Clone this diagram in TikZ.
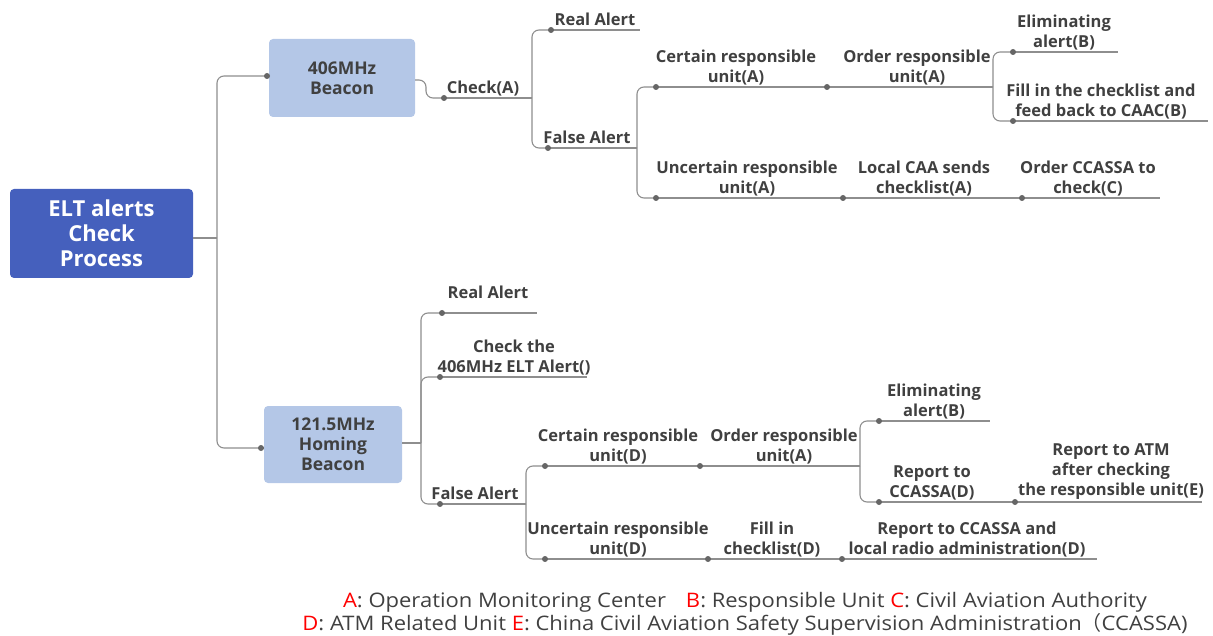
\documentclass[tikz,border=0pt]{standalone}
\usepackage{fontspec}
\setmainfont{Open Sans}
\newfontfamily\cjkfont{Noto Sans CJK SC}
\newfontfamily\legfont[FakeStretch=1.1]{Open Sans}
\definecolor{rootc}{HTML}{4560BD}
\definecolor{boxc}{HTML}{B4C7E7}
\definecolor{linec}{HTML}{8E8E8E}
\definecolor{dotc}{HTML}{666666}
\definecolor{txtc}{HTML}{404040}
\definecolor{legred}{HTML}{FF0000}
\begin{document}
\begin{tikzpicture}[x=1pt,y=-1pt,
  lbl/.style={font=\bfseries\fontsize{16.5}{20}\selectfont, text=txtc, align=center, inner sep=0pt, text depth=3pt, anchor=south},
  conn/.style={draw=linec, line width=1.1pt, rounded corners=7pt},
  rootbox/.style={draw=none, fill=rootc, rounded corners=4pt, text=white, align=center, font=\bfseries\fontsize{22}{25}\selectfont},
  beaconbox/.style={draw=none, fill=boxc, rounded corners=4pt, text=txtc, align=center, font=\bfseries\fontsize{17.5}{20}\selectfont},
  legend/.style={font=\legfont\fontsize{20}{23}\selectfont, text=txtc, align=center, inner sep=0pt}
]
\useasboundingbox (0,0) rectangle (1213,636);

% boxes
\node[rootbox, minimum width=183pt, minimum height=89pt] (root) at (101.5,233.5) {ELT alerts\\Check\\Process};
\node[beaconbox, minimum width=146pt, minimum height=78pt] (b406) at (342,78) {406MHz\\Beacon};
\node[beaconbox, minimum width=138pt, minimum height=77pt] (b121) at (333,444.5) {121.5MHz\\Homing\\Beacon};

% coordinates: dots (d-) and line ends (e-)
\coordinate (rj) at (217,238);
\coordinate (d-b406) at (267,76);
\coordinate (d-b121) at (261,448);
\coordinate (b406o) at (415,80);
\coordinate (b406j) at (426,80);
\coordinate (d-chk) at (444,98);   \coordinate (e-chk) at (532,98);
\coordinate (d-ra1) at (551,30);   \coordinate (e-ra1) at (640,30);
\coordinate (d-fa1) at (548,148);  \coordinate (e-fa1) at (637,148);
\coordinate (d-cr1) at (656,87);
\coordinate (d-or1) at (827,87);   \coordinate (e-or1) at (993,87);
\coordinate (d-el1) at (1013,52);  \coordinate (e-el1) at (1118,52);
\coordinate (d-fi1) at (1013,121); \coordinate (e-fi1) at (1208,121);
\coordinate (d-ur1) at (656,198);
\coordinate (d-lc1) at (843,198);
\coordinate (d-oc1) at (1022,198); \coordinate (e-oc1) at (1160,198);
\coordinate (b121o) at (402,443);
\coordinate (b121j) at (421,443);
\coordinate (d-ra2) at (442,313);  \coordinate (e-ra2) at (537,313);
\coordinate (d-ch2) at (440,377);  \coordinate (e-ch2) at (587,377);
\coordinate (d-fa2) at (440,504);  \coordinate (e-fa2) at (526,504);
\coordinate (d-cr2) at (545,466);
\coordinate (d-or2) at (700,466);  \coordinate (e-or2) at (860,466);
\coordinate (d-el2) at (879,421);  \coordinate (e-el2) at (990,421);
\coordinate (d-rc2) at (879,502);
\coordinate (d-ra3) at (1015,502); \coordinate (e-ra3) at (1202,502);
\coordinate (d-ur2) at (545,559);
\coordinate (d-fl2) at (708,559);
\coordinate (d-rr2) at (842,559);  \coordinate (e-rr2) at (1097,559);

% connectors
\draw[conn] (root.east |- rj) -- (rj);
\draw[conn] (rj) |- (d-b406);
\draw[conn] (rj) |- (d-b121);
\draw[conn] (d-b406) -- (b406.west |- d-b406);
\draw[conn] (d-b121) -- (b121.west |- d-b121);
\draw[conn] (b406o) -- (b406j) |- (d-chk);
\draw[conn] (d-chk) -- (e-chk);
\draw[conn] (e-chk) |- (d-ra1);
\draw[conn] (e-chk) |- (d-fa1);
\draw[conn] (d-ra1) -- (e-ra1);
\draw[conn] (d-fa1) -- (e-fa1);
\draw[conn] (e-fa1) |- (d-cr1);
\draw[conn] (e-fa1) |- (d-ur1);
\draw[conn] (d-cr1) -- (d-or1) -- (e-or1);
\draw[conn] (e-or1) |- (d-el1);
\draw[conn] (e-or1) |- (d-fi1);
\draw[conn] (d-el1) -- (e-el1);
\draw[conn] (d-fi1) -- (e-fi1);
\draw[conn] (d-ur1) -- (d-lc1) -- (d-oc1) -- (e-oc1);
\draw[conn] (b121o) -- (b121j);
\draw[conn] (b121j) |- (d-ra2);
\draw[conn] (b121j) |- (d-ch2);
\draw[conn] (b121j) |- (d-fa2);
\draw[conn] (d-ra2) -- (e-ra2);
\draw[conn] (d-ch2) -- (e-ch2);
\draw[conn] (d-fa2) -- (e-fa2);
\draw[conn] (e-fa2) |- (d-cr2);
\draw[conn] (e-fa2) |- (d-ur2);
\draw[conn] (d-cr2) -- (d-or2) -- (e-or2);
\draw[conn] (e-or2) |- (d-el2);
\draw[conn] (e-or2) |- (d-rc2);
\draw[conn] (d-el2) -- (e-el2);
\draw[conn] (d-rc2) -- (d-ra3) -- (e-ra3);
\draw[conn] (d-ur2) -- (d-fl2) -- (d-rr2) -- (e-rr2);

% dots
\foreach \p in {d-b406,d-b121,d-chk,d-ra1,d-fa1,d-cr1,d-or1,d-el1,d-fi1,d-ur1,d-lc1,d-oc1,d-ra2,d-ch2,d-fa2,d-cr2,d-or2,d-el2,d-rc2,d-ra3,d-ur2,d-fl2,d-rr2}
  \fill[dotc] (\p) circle (3);

% labels
\node[lbl] (t-chk) at (483,97) {Check(A)};
\node[lbl] (t-ra1) at (595,29) {Real Alert};
\node[lbl] (t-fa1) at (587,147) {False Alert};
\node[lbl] (t-cr1) at (736,86) {Certain responsible\\unit(A)};
\node[lbl] (t-or1) at (917,86) {Order responsible\\unit(A)};
\node[lbl] (t-el1) at (1064,51) {Eliminating\\alert(B)};
\node[lbl] (t-fi1) at (1101,120) {Fill in the checklist and\\feed back to CAAC(B)};
\node[lbl] (t-ur1) at (747,197) {Uncertain responsible\\unit(A)};
\node[lbl] (t-lc1) at (924,197) {Local CAA sends\\checklist(A)};
\node[lbl] (t-oc1) at (1088,197) {Order CCASSA to\\check(C)};
\node[lbl] (t-ra2) at (488,302) {Real Alert};
\node[lbl] (t-ch2) at (514,376) {Check the\\406MHz ELT Alert()};
\node[lbl] (t-fa2) at (475,503) {False Alert};
\node[lbl] (t-cr2) at (618,465) {Certain responsible\\unit(D)};
\node[lbl] (t-or2) at (784,465) {Order responsible\\unit(A)};
\node[lbl] (t-el2) at (934,420) {Eliminating\\alert(B)};
\node[lbl] (t-rc2) at (932,501) {Report to\\CCASSA(D)};
\node[lbl] (t-ra3) at (1111,499) {Report to ATM\\after checking\\the responsible unit(E)};
\node[lbl] (t-ur2) at (618,558) {Uncertain responsible\\unit(D)};
\node[lbl] (t-fl2) at (772,558) {Fill in\\checklist(D)};
\node[lbl] (t-rr2) at (967,558) {Report to CCASSA and\\local radio administration(D)};

% legend
\node[legend] (leg) at (745,614) {{\color{legred}A}: Operation Monitoring Center\quad {\color{legred}B}: Responsible Unit {\color{legred}C}: Civil Aviation Authority\\
{\color{legred}D}: ATM Related Unit {\color{legred}E}: China Civil Aviation Safety Supervision Administration{\cjkfont （}CCASSA)};
\end{tikzpicture}
\end{document}
